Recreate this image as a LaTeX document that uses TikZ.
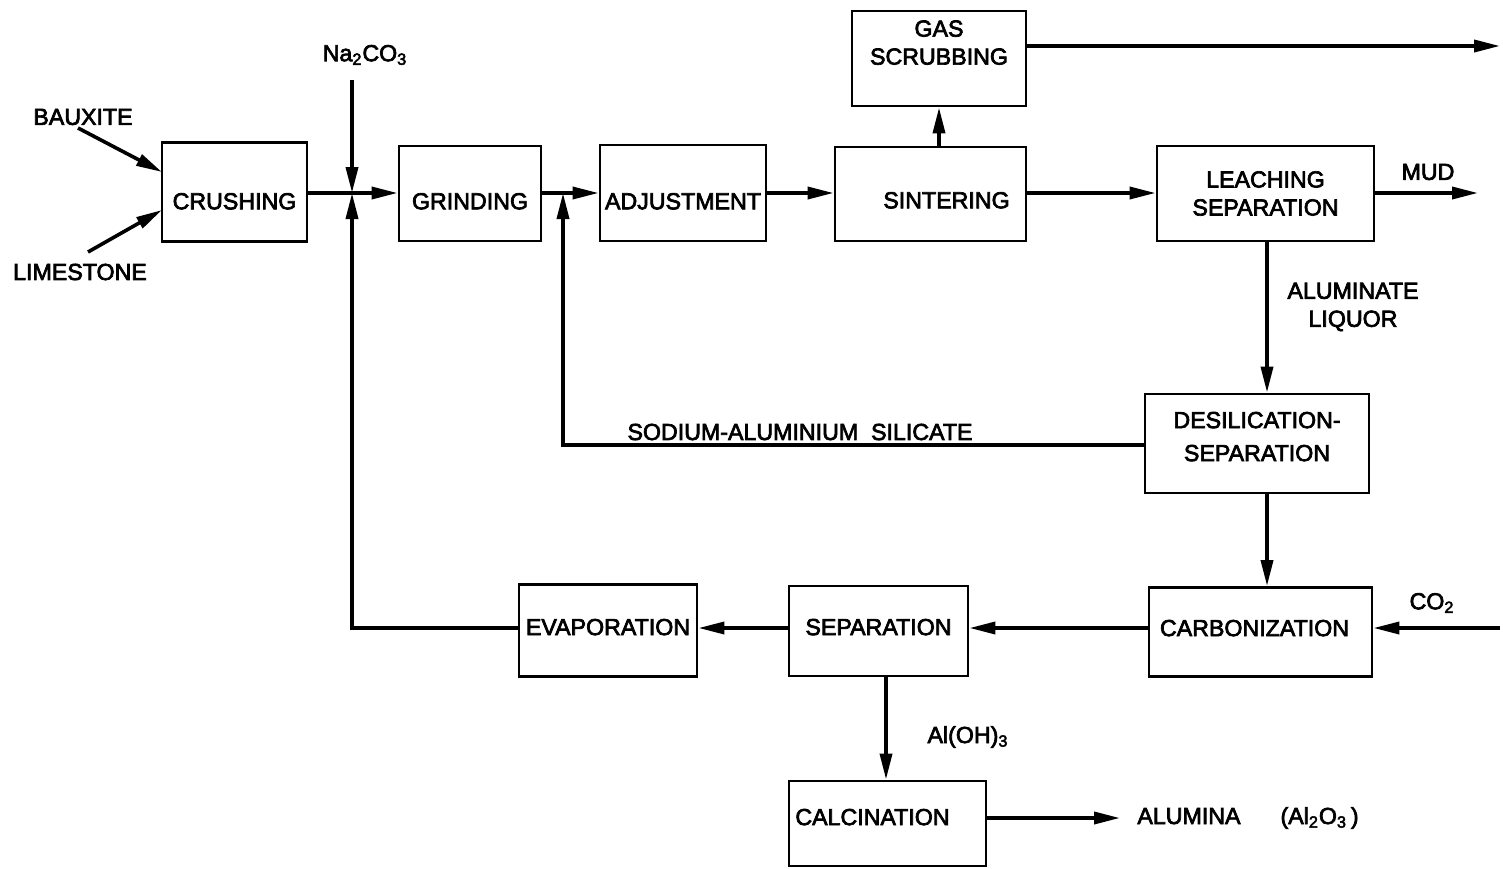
\documentclass[tikz,border=0pt]{standalone}
\usepackage{fontspec}
\setmainfont{Liberation Sans}
\newfontfamily\diagfont{Liberation Sans}[FakeBold=3]
\usetikzlibrary{arrows.meta}
\begin{document}
\begin{tikzpicture}[x=0.5pt,y=-0.5pt,
  box/.style={draw,line width=1.4pt,inner sep=0pt,align=center,font=\diagfont\fontsize{11.6}{14}\selectfont},
  lbl/.style={inner sep=0pt,align=center,font=\diagfont\fontsize{11.6}{14}\selectfont},
  flow/.style={line width=1.8pt,-{Triangle[length=13pt,width=6pt]}},
  plain/.style={line width=1.8pt}]
\useasboundingbox (0,0) rectangle (1503,868);
% boxes
\node[box,minimum width=72.5pt,minimum height=49.5pt,text height=17.3pt,text depth=0pt] (crush) at (234.5,192) {CRUSHING};
\node[box,minimum width=71pt,minimum height=47.5pt,text height=15.8pt,text depth=0pt] (grind) at (470,193.5) {GRINDING};
\node[box,minimum width=83pt,minimum height=48pt,text height=16.3pt,text depth=0pt] (adj) at (683,193) {ADJUSTMENT};
\node[box,minimum width=95.5pt,minimum height=47pt,text height=14.3pt,text depth=0pt] (sinter) at (930.5,194) {\hspace*{16pt}SINTERING};
\node[box,minimum width=87pt,minimum height=47.5pt,text depth=16pt] (gas) at (939,58.5) {GAS\\SCRUBBING};
\node[box,minimum width=108.5pt,minimum height=47.5pt] (leach) at (1265.5,193.5) {LEACHING\\SEPARATION};
\node[box,minimum width=112pt,minimum height=49.5pt,text depth=7pt] (desil) at (1257,443.5) {DESILICATION-\\[2.5pt]SEPARATION};
\node[box,minimum width=111.5pt,minimum height=44.5pt,text depth=4pt] (carb) at (1260.5,632) {CARBONIZATION\hspace*{6pt}};
\node[box,minimum width=89.5pt,minimum height=45pt,text depth=4pt] (sep) at (878.5,631) {SEPARATION};
\node[box,minimum width=89pt,minimum height=46pt,text depth=3.5pt] (evap) at (608,630.5) {EVAPORATION};
\node[box,minimum width=98.5pt,minimum height=42.5pt,text depth=6.5pt] (calc) at (887.5,823.5) {CALCINATION\hspace*{15pt}};
% labels
\node[lbl] (baux) at (83,117) {BAUXITE};
\node[lbl] (lime) at (80,272) {LIMESTONE};
\node[lbl] (na) at (365,55) {Na\textsubscript{2}CO\textsubscript{3}};
\node[lbl] (mud) at (1428,172) {MUD};
\node[lbl] (aliq) at (1353,307) {ALUMINATE\\LIQUOR};
\node[lbl] (sas) at (800,432) {SODIUM-ALUMINIUM\ \ SILICATE};
\node[lbl] (co2) at (1432,603) {CO\textsubscript{2}};
\node[lbl] (aloh) at (968,737) {Al(OH)\textsubscript{3}};
\node[lbl,anchor=west] (alu) at (1137,818) {ALUMINA\hspace{20pt}(Al\textsubscript{2}O\textsubscript{3}\,)};
% coordinates
\coordinate (natop) at (352,80);
\coordinate (j1) at (352,193);
\coordinate (j2) at (563,193);
\coordinate (bs) at (78,128);
\coordinate (ls) at (88,252);
\coordinate (gout) at (1500,46);
\coordinate (mudend) at (1478,193);
\coordinate (co2in) at (1500,628);
\coordinate (aluend) at (1120,818);
\coordinate (vx) at (1267,0);
% connectors
\draw[flow] (bs) -- (162,172);
\draw[flow] (ls) -- (162,210);
\draw[flow] (crush.east |- j1) -- (grind.west |- j1);
\draw[flow] (natop) -- (j1);
\draw[flow] (evap.west |- co2in) -| (j1);
\draw[flow] (grind.east |- j2) -- (adj.west |- j2);
\draw[flow] (desil.west |- 0,445) -| (j2);
\draw[flow] (adj.east |- j2) -- (sinter.west |- j2);
\draw[flow] (sinter.east |- j2) -- (leach.west |- j2);
\draw[flow] (gas.south |- sinter.north) -- (gas.south);
\draw[flow] (gout -| gas.east) -- (gout);
\draw[flow] (leach.east |- j2) -- (mudend);
\draw[flow] (vx |- leach.south) -- (vx |- desil.north);
\draw[flow] (vx |- desil.south) -- (vx |- carb.north);
\draw[flow] (co2in) -- (co2in -| carb.east);
\draw[flow] (carb.west |- co2in) -- (sep.east |- co2in);
\draw[flow] (sep.west |- co2in) -- (evap.east |- co2in);
\draw[flow] (sep.south -| 886,0) -- (calc.north -| 886,0);
\draw[flow] (calc.east |- aluend) -- (aluend);
\end{tikzpicture}
\end{document}
